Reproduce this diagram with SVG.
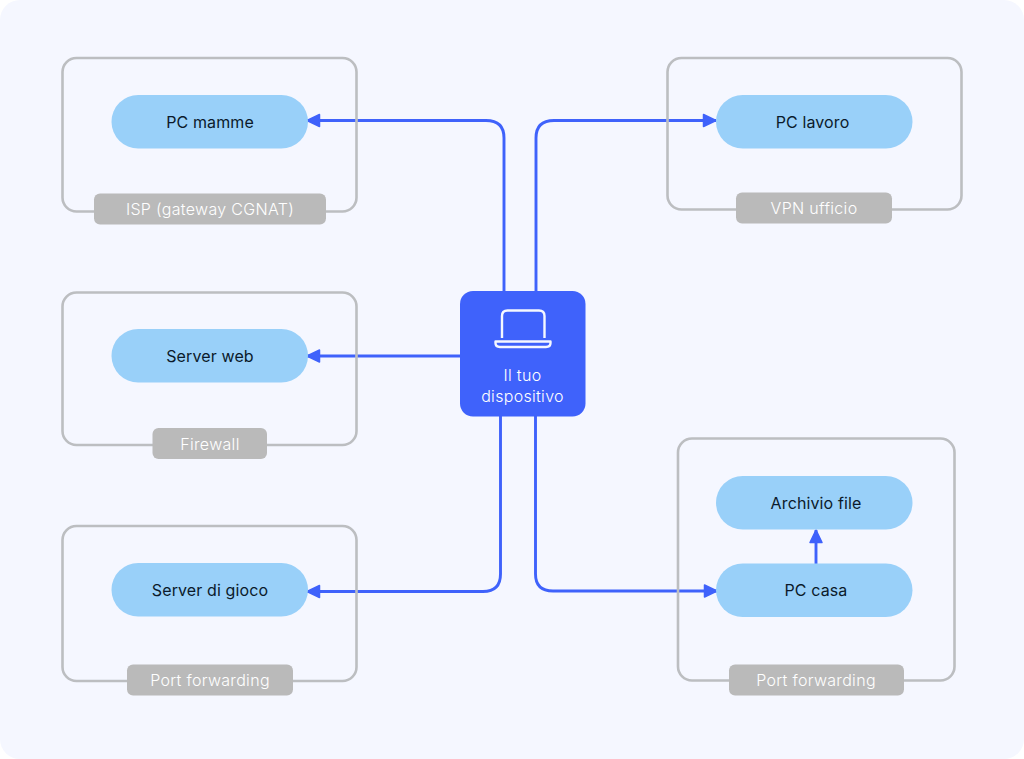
<svg xmlns="http://www.w3.org/2000/svg" width="1024" height="759" viewBox="0 0 1024 759">
<style>
text{font-family:Inter,"Liberation Sans",sans-serif;text-anchor:middle}
.box{fill:none;stroke:#bcbec1;stroke-width:2.6}
.pill{fill:#99d0f9}
.pt{font-size:16px;fill:#0b1a2b;letter-spacing:.12px}
.tag{fill:#bababa}
.tt{font-size:16px;fill:#fff;letter-spacing:.32px;font-weight:300}
.c{fill:none;stroke:#3f62fb;stroke-width:2.9;stroke-linejoin:round}
.ic{fill:none;stroke:#f5f8ff;stroke-width:2.4;stroke-linejoin:round}
</style>
<defs>
<marker id="a" markerUnits="userSpaceOnUse" viewBox="0 0 16 16" markerWidth="16" markerHeight="16" refX="14.500" refY="8" orient="auto"><path d="M2 2 14.500 8 2 14Z" fill="#3f62fb" stroke="#3f62fb" stroke-width="1.500" stroke-linejoin="round"/></marker>
</defs>
<rect width="1024" height="759" fill="#fff"/>
<rect width="1024" height="759" rx="20" fill="#f5f7ff"/>
<g id="connectors">
<path class="c" marker-end="url(#a)" d="M504 291V138Q504 120.500 486 120.500H307"/>
<path class="c" marker-end="url(#a)" d="M536 291V138Q536 120.500 554 120.500H716"/>
<path class="c" marker-end="url(#a)" d="M460 356H307"/>
<path class="c" marker-end="url(#a)" d="M500.500 416V574Q500.500 591.500 483 591.500H307"/>
<path class="c" marker-end="url(#a)" d="M535.500 416V574Q535.500 591 553 591H717"/>
<path class="c" marker-end="url(#a)" d="M816 564V530"/>
</g>
<g id="group-isp">
<rect class="box" x="62.500" y="58" width="294" height="153.500" rx="14"/>
<rect class="tag" x="94" y="193.500" width="232" height="31" rx="6"/>
<text class="tt" x="210" y="215">ISP (gateway CGNAT)</text>
</g>
<g id="node-pc-mamme"><rect class="pill" x="111.500" y="95" width="196.500" height="53.500" rx="26.700"/><text class="pt" x="210" y="127.500">PC mamme</text></g>
<g id="group-vpn">
<rect class="box" x="667.500" y="58" width="294" height="151.500" rx="14"/>
<rect class="tag" x="736" y="192.500" width="156" height="31" rx="6"/>
<text class="tt" x="814" y="214">VPN ufficio</text>
</g>
<g id="node-pc-lavoro"><rect class="pill" x="716" y="95" width="196.500" height="53.500" rx="26.700"/><text class="pt" x="812.500" y="127.500">PC lavoro</text></g>
<g id="group-firewall">
<rect class="box" x="62.500" y="292.500" width="294" height="152.500" rx="14"/>
<rect class="tag" x="152.500" y="428" width="114.500" height="31" rx="6"/>
<text class="tt" x="210" y="449.500">Firewall</text>
</g>
<g id="node-server-web"><rect class="pill" x="111.500" y="329" width="196.500" height="53.500" rx="26.700"/><text class="pt" x="210" y="361.500">Server web</text></g>
<g id="group-port1">
<rect class="box" x="62.500" y="526" width="294" height="155" rx="14"/>
<rect class="tag" x="127" y="664.500" width="166" height="31" rx="6"/>
<text class="tt" x="210" y="686">Port forwarding</text>
</g>
<g id="node-server-gioco"><rect class="pill" x="111.500" y="563" width="196.500" height="53.500" rx="26.700"/><text class="pt" x="210" y="595.500">Server di gioco</text></g>
<g id="group-port2">
<rect class="box" x="678" y="438.500" width="276.500" height="242" rx="14"/>
<rect class="tag" x="729" y="664.500" width="175" height="31" rx="6"/>
<text class="tt" x="816" y="686">Port forwarding</text>
</g>
<g id="node-archivio"><rect class="pill" x="716" y="476" width="196.500" height="53.500" rx="26.700"/><text class="pt" x="816" y="508.500">Archivio file</text></g>
<g id="node-pc-casa"><rect class="pill" x="716" y="563.500" width="196.500" height="53.500" rx="26.700"/><text class="pt" x="816" y="596">PC casa</text></g>
<g id="node-device">
<rect x="460" y="291" width="125.500" height="125.500" rx="13" fill="#3f62fb"/>
<path class="ic" d="M502 338V316Q502 310.500 507.500 310.500H539Q544.500 310.500 544.500 316V338"/>
<path class="ic" d="M495.500 341.500H550.500V343Q550.500 347 546 347H500Q495.500 347 495.500 343Z"/>
<text x="522.500" y="381" font-size="16" fill="#fff" letter-spacing=".3" font-weight="300">Il tuo</text>
<text x="522.500" y="402" font-size="16" fill="#fff" letter-spacing=".3" font-weight="300">dispositivo</text>
</g>
</svg>
